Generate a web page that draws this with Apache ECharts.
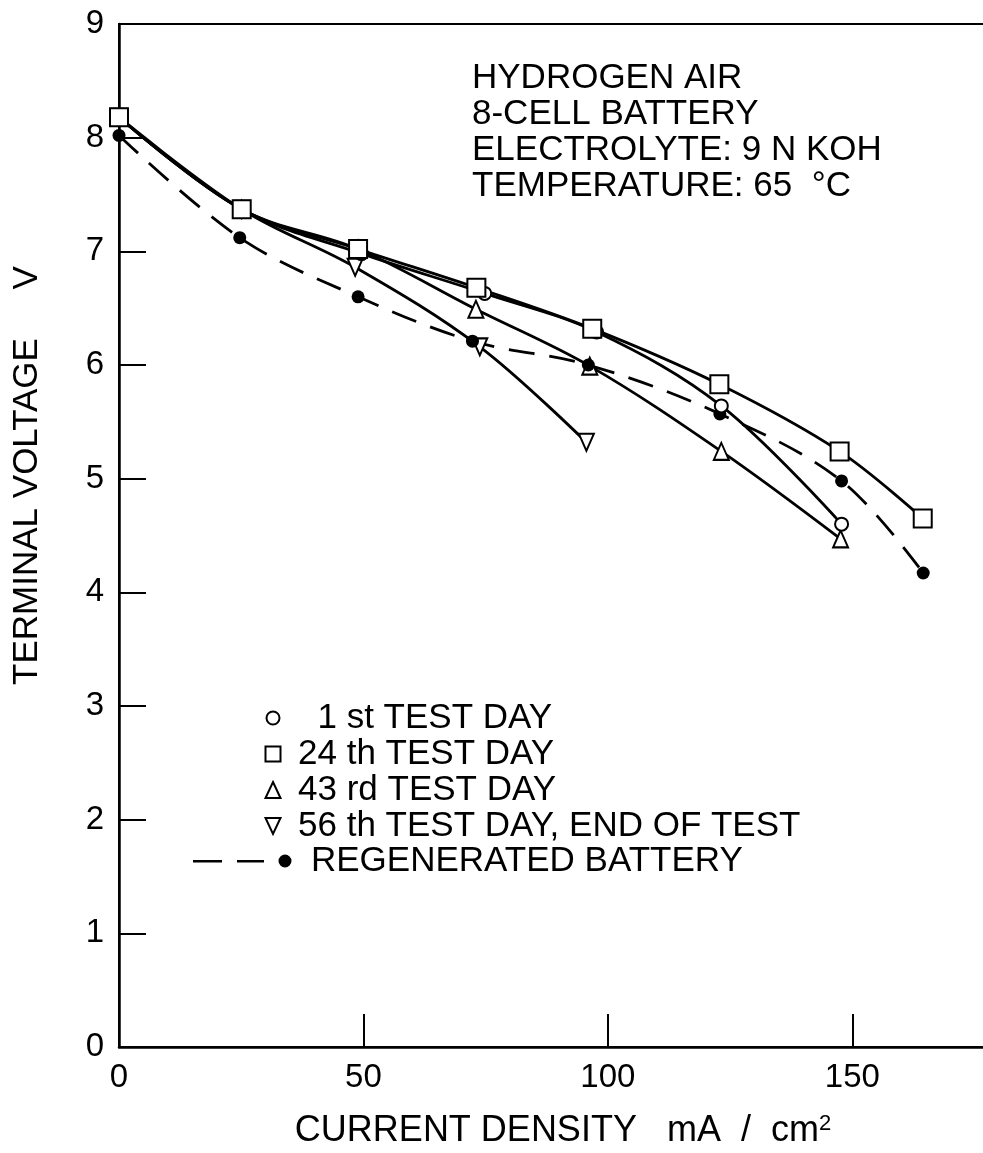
<!DOCTYPE html>
<html>
<head>
<meta charset="utf-8">
<title>Terminal voltage vs current density</title>
<script src="https://cdn.jsdelivr.net/npm/echarts@6/dist/echarts.min.js"></script>
<style>
  html, body { margin: 0; padding: 0; background: #fff; }
  #chart { width: 983px; height: 1153px; }
</style>
</head>
<body>
<div id="chart"></div>
<script>
var FONT = '"Liberation Sans", Arial, Helvetica, sans-serif';

var seriesNames = ['1 st TEST DAY', '24 th TEST DAY', '43 rd TEST DAY', '56 th TEST DAY, END OF TEST', 'REGENERATED BATTERY'];
var noteLines = ['HYDROGEN AIR', '8-CELL BATTERY', 'ELECTROLYTE: 9 N KOH', 'TEMPERATURE: 65  °C'];

// current density mA/cm2 and terminal voltage V
var day1X = [0, 25.1, 49.6, 74.8, 97.7, 123.2, 147.8];
var day1V = [8.18, 7.37, 6.98, 6.63, 6.29, 5.64, 4.60];
var day24X = [0, 25.1, 48.9, 73.1, 96.8, 122.8, 147.4, 164.4];
var day24V = [8.18, 7.37, 7.02, 6.68, 6.32, 5.83, 5.24, 4.65];
var day43X = [0, 25.1, 48.9, 73.0, 96.3, 123.2, 147.6];
var day43V = [8.18, 7.37, 7.02, 6.49, 5.99, 5.24, 4.47];
var day56X = [0, 25.1, 48.3, 73.8, 95.6];
var day56V = [8.18, 7.37, 6.86, 6.16, 5.32];
var regenX = [0, 24.7, 48.9, 72.3, 96.0, 122.9, 147.8, 164.5];
var regenV = [8.02, 7.12, 6.60, 6.21, 6.00, 5.57, 4.98, 4.17];

function pairs(xs, ys) {
  return xs.map(function (x, i) { return [x, ys[i]]; });
}

var hollow = { color: '#fff', borderColor: '#000', borderWidth: 2 };
var line = { color: '#000', width: 2.8 };

var chart = echarts.init(document.getElementById('chart'));

chart.setOption({
  backgroundColor: '#fff',
  animation: false,
  textStyle: { fontFamily: FONT, color: '#000' },
  // the plot runs on past the right edge of the page, as in the scan
  grid: {
    left: 119, width: 880, top: 24, bottom: 106, outerBoundsMode: 'none',
    show: true, borderColor: '#000', borderWidth: 2, backgroundColor: 'transparent'
  },
  xAxis: {
    type: 'value', min: 0, max: 180, interval: 50,
    name: 'CURRENT DENSITY   mA  /  cm{sup|2}',
    nameLocation: 'middle', nameGap: 66,
    nameTextStyle: {
      fontFamily: FONT, fontSize: 36, color: '#000', padding: [0, 0, 0, 8], lineHeight: 36,
      rich: { sup: { fontFamily: FONT, fontSize: 22, color: '#000', lineHeight: 14, verticalAlign: 'top' } }
    },
    axisLine: { lineStyle: { color: '#000', width: 2.5 } },
    axisTick: { inside: true, length: 33, lineStyle: { color: '#000', width: 2 } },
    axisLabel: { fontFamily: FONT, fontSize: 33, color: '#000', margin: 14, showMaxLabel: false },
    splitLine: { show: false }
  },
  yAxis: {
    type: 'value', min: 0, max: 9, interval: 1,
    name: 'TERMINAL VOLTAGE     V',
    nameLocation: 'middle', nameGap: 74,
    nameTextStyle: { fontFamily: FONT, fontSize: 35, color: '#000', padding: [0, 0, 0, 120] },
    axisLine: { lineStyle: { color: '#000', width: 2.5 } },
    axisTick: { inside: true, length: 27, lineStyle: { color: '#000', width: 2 } },
    axisLabel: { fontFamily: FONT, fontSize: 33, color: '#000', margin: 15 },
    splitLine: { show: false }
  },
  legend: [{
    orient: 'vertical', left: 258, top: 695,
    itemWidth: 40, itemHeight: 18, itemGap: 0, selectedMode: false,
    textStyle: { fontFamily: FONT, fontSize: 35, color: '#000', lineHeight: 36 },
    formatter: function (n) { return n === seriesNames[0] ? '  ' + n : n; },
    data: [
      { name: seriesNames[0], icon: 'path://M0,0M18,18M2.5,9a6.5,6.5 0 1,0 13,0a6.5,6.5 0 1,0 -13,0z', itemStyle: hollow },
      { name: seriesNames[1], icon: 'path://M0,0M18,18M1.5,1.5h15v15h-15z', itemStyle: hollow },
      { name: seriesNames[2], icon: 'path://M0,0M18,18M9,1L16.5,17H1.5z', itemStyle: hollow },
      { name: seriesNames[3], icon: 'path://M0,0M18,18M1.5,1H16.5L9,17z', itemStyle: hollow }
    ]
  }, {
    orient: 'vertical', left: 188, top: 838,
    itemWidth: 113, itemHeight: 14, selectedMode: false,
    textStyle: { fontFamily: FONT, fontSize: 35, color: '#000', lineHeight: 36 },
    data: [{
      name: seriesNames[4],
      icon: 'path://M0,0M113,14M0,6h29v2.6h-29z M44,6h27v2.6h-27z M85.5,7a6.5,6.5 0 1,0 13,0a6.5,6.5 0 1,0 -13,0z',
      itemStyle: { color: '#000', borderWidth: 0 }
    }]
  }],
  graphic: [{
    type: 'text', left: 472, top: 60,
    style: { text: noteLines.join('\n'), fontFamily: FONT, fontSize: 35, lineHeight: 36, fill: '#000' }
  }],
  series: [{
    name: seriesNames[3], type: 'line', smooth: 0.35, data: pairs(day56X, day56V),
    symbol: 'triangle', symbolRotate: 180, symbolSize: [15, 17],
    itemStyle: hollow, lineStyle: line
  }, {
    name: seriesNames[2], type: 'line', smooth: 0.35, data: pairs(day43X, day43V),
    symbol: 'triangle', symbolSize: [15, 17],
    itemStyle: hollow, lineStyle: line
  }, {
    name: seriesNames[4], type: 'line', smooth: 0.35, data: pairs(regenX, regenV),
    symbol: 'circle', symbolSize: 13,
    itemStyle: { color: '#000' }, lineStyle: { color: '#000', width: 2.8, type: [26, 15] }
  }, {
    name: seriesNames[0], type: 'line', smooth: 0.35, data: pairs(day1X, day1V),
    symbol: 'circle', symbolSize: 13,
    itemStyle: hollow, lineStyle: line
  }, {
    name: seriesNames[1], type: 'line', smooth: 0.35, data: pairs(day24X, day24V),
    symbol: 'rect', symbolSize: 18,
    itemStyle: hollow, lineStyle: line
  }]
});
</script>
</body>
</html>
